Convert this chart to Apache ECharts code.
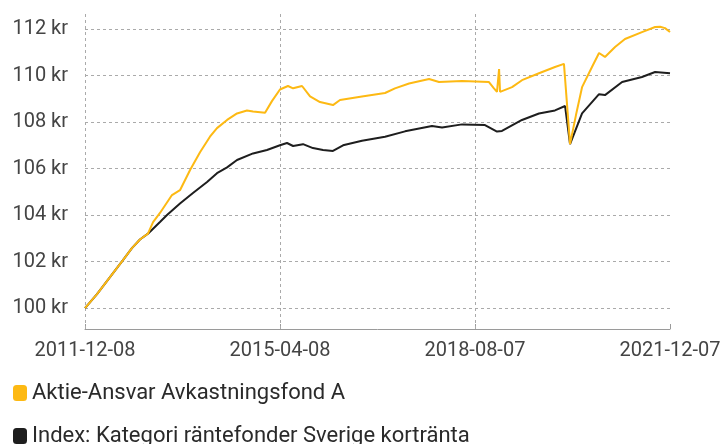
<!DOCTYPE html>
<html>
<head>
<meta charset="utf-8">
<script src="https://cdn.jsdelivr.net/npm/echarts@6/dist/echarts.min.js"></script>
<style>
  html, body { margin: 0; padding: 0; background: #fff; }
  #chart { width: 724px; height: 444px; }
</style>
</head>
<body>
<div id="chart"></div>
<script>
// serienamn
const fundName = 'Aktie-Ansvar Avkastningsfond A';
const indexName = 'Index: Kategori räntefonder Sverige kortränta';

// fonden (gul)
const fundDates = [
    '2011-12-08', '2012-02-21', '2012-05-12', '2012-08-01', '2012-09-26', '2012-11-15', '2013-01-04',
    '2013-02-05', '2013-03-20', '2013-06-03', '2013-07-23', '2013-09-24', '2013-11-25', '2014-01-26',
    '2014-03-11', '2014-05-13', '2014-07-14', '2014-09-14', '2014-10-22', '2015-01-05', '2015-02-17',
    '2015-04-08', '2015-05-28', '2015-06-29', '2015-08-24', '2015-10-13', '2015-12-14', '2016-03-04',
    '2016-04-17', '2016-09-01', '2017-01-23', '2017-03-26', '2017-06-22', '2017-10-25', '2017-12-26',
    '2018-05-19', '2018-11-03', '2018-12-04', '2018-12-23', '2019-01-05', '2019-01-11', '2019-03-27',
    '2019-05-28', '2019-09-11', '2019-12-20', '2020-02-14', '2020-02-21', '2020-03-23', '2020-04-29',
    '2020-06-06', '2020-08-07', '2020-09-20', '2020-10-27', '2020-12-29', '2021-03-01', '2021-06-15',
    '2021-09-05', '2021-10-06', '2021-11-06', '2021-12-07'
];
const fundValues = [
    100.0, 100.6, 101.33, 102.06, 102.58, 102.95, 103.2,
    103.7, 104.09, 104.86, 105.07, 105.94, 106.7, 107.37,
    107.74, 108.09, 108.37, 108.5, 108.45, 108.4, 108.9,
    109.4, 109.55, 109.45, 109.55, 109.1, 108.86, 108.73,
    108.95, 109.1, 109.25, 109.45, 109.66, 109.85, 109.72,
    109.77, 109.72, 109.45, 109.3, 110.28, 109.3, 109.5,
    109.8, 110.1, 110.37, 110.5, 110.58, 107.05, 108.3,
    109.5, 110.37, 110.97, 110.8, 111.23, 111.57, 111.87,
    112.09, 112.1, 112.04, 111.87
];

// index (svart)
const indexDates = [
    '2011-12-08', '2012-02-21', '2012-05-12', '2012-08-01', '2012-09-26', '2012-11-15', '2013-01-04',
    '2013-03-20', '2013-05-03', '2013-07-23', '2013-10-12', '2014-01-08', '2014-03-11', '2014-05-13',
    '2014-07-14', '2014-10-22', '2015-01-17', '2015-04-08', '2015-05-22', '2015-06-29', '2015-08-30',
    '2015-10-31', '2016-01-02', '2016-03-04', '2016-05-06', '2016-09-01', '2017-01-23', '2017-05-28',
    '2017-11-12', '2018-01-14', '2018-05-19', '2018-10-09', '2018-12-23', '2019-01-23', '2019-05-28',
    '2019-09-11', '2019-12-20', '2020-02-21', '2020-03-23', '2020-06-06', '2020-09-20', '2020-10-27',
    '2021-02-11', '2021-06-15', '2021-09-05', '2021-12-07'
];
const indexValues = [
    100.0, 100.6, 101.33, 102.06, 102.58, 102.95, 103.2,
    103.7, 104.0, 104.5, 104.95, 105.42, 105.8, 106.05,
    106.37, 106.65, 106.8, 107.0, 107.1, 106.97, 107.05,
    106.88, 106.8, 106.76, 107.0, 107.2, 107.37, 107.6,
    107.83, 107.77, 107.9, 107.87, 107.59, 107.62, 108.09,
    108.37, 108.5, 108.69, 107.05, 108.37, 109.2, 109.16,
    109.72, 109.94, 110.15, 110.1
];

// axlar
const yTicks = [100, 102, 104, 106, 108, 110, 112];
const xTicks = ['2011-12-08', '2015-04-08', '2018-08-07', '2021-12-07'];
const xGridDates = ['2011-12-08', '2015-04-08', '2018-08-07'];

const fontFamily = 'Roboto, sans-serif';

function toTime(s) {
    let p = s.split('-').map(Number);
    return new Date(p[0], p[1] - 1, p[2]).getTime();
}
function pad(n) {
    return n < 10 ? '0' + n : '' + n;
}
function pairs(dates, values) {
    return dates.map((d, i) => [toTime(d), values[i]]);
}
// en legend per rad
function legendRow(name, top) {
    return {
        left: 8,
        top: top,
        itemWidth: 14,
        itemHeight: 16,
        icon: 'roundRect',
        selectedMode: false,
        data: [name],
        textStyle: {
            fontFamily: fontFamily,
            fontSize: 22,
            color: '#2a2a2a'
        }
    };
}

const chart = echarts.init(document.getElementById('chart'), null, {renderer: 'canvas'});

// x-axeln som värdeaxel med tidsstämplar, så att bara fyra datum får etikett
chart.setOption({
    animation: false,
    backgroundColor: '#fff',
    grid: {
        left: 85,
        right: 54,
        top: 13,
        bottom: 115
    },
    legend: [
        legendRow(fundName, 377),
        legendRow(indexName, 420)
    ],
    xAxis: {
        type: 'value',
        min: toTime(xTicks[0]),
        max: toTime(xTicks[xTicks.length - 1]),
        axisLine: {
            show: true,
            lineStyle: {color: '#9a9a9a', width: 1}
        },
        axisTick: {
            show: true,
            inside: true,
            length: 5,
            customValues: xTicks.map(toTime),
            lineStyle: {color: '#9a9a9a'}
        },
        axisLabel: {
            customValues: xTicks.map(toTime),
            margin: 12,
            fontFamily: fontFamily,
            fontSize: 20,
            color: '#444',
            alignMinLabel: 'center',
            alignMaxLabel: 'center',
            formatter: (v) => {
                let d = new Date(v);
                return d.getFullYear() + '-' + pad(d.getMonth() + 1) + '-' + pad(d.getDate());
            }
        },
        splitLine: {show: false}
    },
    yAxis: {
        type: 'value',
        min: 99.1,
        max: 112.69,
        axisLine: {show: false},
        axisTick: {show: false, customValues: yTicks},
        axisLabel: {
            customValues: yTicks,
            margin: 17,
            fontFamily: fontFamily,
            fontSize: 20,
            color: '#444',
            formatter: '{value} kr'
        },
        splitLine: {
            show: true,
            lineStyle: {color: '#aaaaaa', width: 1, type: [3, 3]}
        }
    },
    series: [
        {
            name: indexName,
            type: 'line',
            data: pairs(indexDates, indexValues),
            showSymbol: false,
            symbol: 'none',
            color: '#1e1e1e',
            lineStyle: {color: '#1e1e1e', width: 2},
            markLine: {
                silent: true,
                symbol: 'none',
                z: 1,
                label: {show: false},
                lineStyle: {color: '#aaaaaa', width: 1, type: [3, 3]},
                data: xGridDates.map((d) => ({xAxis: toTime(d)}))
            }
        },
        {
            name: fundName,
            type: 'line',
            data: pairs(fundDates, fundValues),
            showSymbol: false,
            symbol: 'none',
            color: '#fdb913',
            lineStyle: {color: '#fdb913', width: 2}
        }
    ]
});
</script>
</body>
</html>
